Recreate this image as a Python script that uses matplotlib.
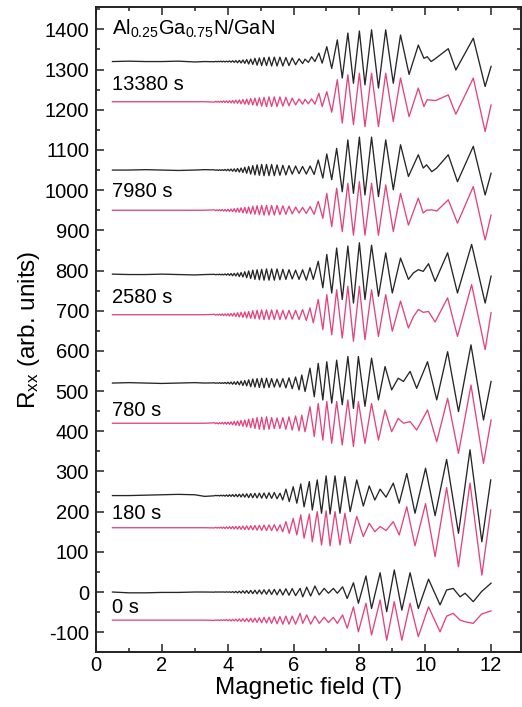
import matplotlib
matplotlib.use("Agg")
import matplotlib.pyplot as plt
from matplotlib.ticker import MultipleLocator

plt.rcParams['font.family'] = ['Liberation Sans', 'DejaVu Sans']
plt.rcParams['mathtext.default'] = 'regular'
plt.rcParams['axes.unicode_minus'] = False

# ---------------- data ----------------
labels = ["13380 s", "7980 s", "2580 s", "780 s", "180 s", "0 s"]
base_black = [1320, 1050, 790, 520, 240, 0]
base_pink = [1220, 950, 690, 420, 160, -70]
label_y = [1248, 983, 720, 438, 181, -53]

# flat low-field part (T)
flat_field = [0.5, 1.0, 1.5, 2.0, 2.5, 3.0, 3.3]
flat_pink = [0, 0, 0, 0, 0, 0, 0]

# estimated positions of the dense low-field extrema (T)
dense_field = [3.600, 3.637, 3.675, 3.714, 3.753, 3.793, 3.834, 3.876, 3.919, 3.963,
               4.008, 4.054, 4.101, 4.149, 4.198, 4.248, 4.300, 4.353, 4.407, 4.462,
               4.519, 4.577, 4.637, 4.699, 4.762, 4.827, 4.893, 4.962, 5.032, 5.104,
               5.179, 5.255, 5.334, 5.416, 5.499, 5.586, 5.675, 5.767, 5.862, 5.960,
               6.062, 6.167, 6.275, 6.388, 6.504, 6.625]

# ---- 13380 s ----
flat_blk_13380 = [0, 1, 0, 0, 1, -1, 0]
dense_blk_13380 = [-0.5, 0.5, -0.5, 0.5, -0.5, 1, -1, 1, -1, 1,
                   -1, 1.5, -1.5, 2, -2, 2.5, -3, 3, -3.5, 4,
                   -4.5, 5, -6, 6, -7, 8, -9, 9, -10, 10,
                   -10, 11, -11, 11, -11, 11, -11, 10, -10, 9,
                   -8, 7, -5]
dense_pnk_13380 = [-1, 1, -1, 1, -1.5, 1.5, -1.5, 2, -2, 2,
                   -2.5, 2.5, -3, 3, -3.5, 4, -4, 4.5, -5, 5.5,
                   -6, 6.5, -7, 8, -8, 9, -10, 10, -11, 11,
                   -12, 12, -12, 12, -12, 12, -11, 11, -10, 9,
                   -8, 7, -6]
high_field_13380 = [6.35, 6.45, 6.55, 6.65, 6.77, 6.87, 7.01, 7.16, 7.33, 7.48,
                    7.65, 7.82, 8.00, 8.17, 8.37, 8.58, 8.80, 9.03, 9.25, 9.51,
                    9.79, 9.96, 10.06, 10.18, 10.32, 10.70, 10.93, 11.46, 11.82, 12.0]
high_blk_13380 = [6, -2, 12, 0, 21, -4, 37, -17, 54, -41,
                  71, -54, 76, -58, 79, -66, 79, -54, 66, -32,
                  41, 8, 12, 0, 8, 32, -21, 58, -62, -12]
high_pnk_13380 = [6, -5, 7, -6, 21, -12, 25, -26, 55, -53,
                  67, -57, 71, -62, 71, -62, 71, -49, 59, -37,
                  34, -12, 5, 4, 3, 17, -31, 59, -74, -8]

# ---- 7980 s ----
flat_blk_7980 = [0, 0, 1, 0, -1, 0, 1]
dense_blk_7980 = [0.5, -0.5, 0.5, -1, 1, -1, 1, -1, 1.5, -1.5,
                  2, -2, 2.5, -3, 3, -4, 4, -5, 5, -6,
                  7, -8, 9, -10, 11, -12, 13, -13, 14, -14,
                  14, -14, 14, -14, 13, -13, 12, -12, 11, -10,
                  10, -9, 9, -10, 10, -11]
dense_pnk_7980 = [1, -1, 1, -1, 1.5, -1.5, 2, -2, 2, -2.5,
                  2.5, -3, 3, -3.5, 4, -4.5, 5, -5, 6, -6.5,
                  7, -8, 8, -9, 10, -10, 11, -11, 12, -12,
                  12, -12, 12, -12, 12, -11, 11, -10, 10, -9,
                  8, -7, 7, -8, 9, -10]
high_field_7980 = [6.75, 6.89, 7.01, 7.16, 7.31, 7.48, 7.65, 7.82, 8.00, 8.17,
                   8.37, 8.58, 8.80, 9.03, 9.25, 9.49, 9.79, 9.94, 10.04, 10.20,
                   10.35, 10.70, 10.98, 11.46, 11.82, 12.0]
high_blk_7980 = [25, -20, 40, -24, 54, -54, 75, -58, 82, -62,
                 82, -66, 75, -49, 63, -16, 38, 5, 13, -4,
                 5, 38, -29, 59, -62, -8]
high_pnk_7980 = [22, -20, 42, -41, 55, -53, 67, -62, 71, -62,
                 67, -62, 63, -53, 42, -37, 30, -7, 0, 1,
                 -2, 26, -32, 59, -74, -12]

# ---- 2580 s ----
flat_blk_2580 = [1, 0, 0, 1, 0, -1, 0]
dense_blk_2580 = [0.5, -0.5, 0.5, -0.5, 1, -1, 1, -1, 1.5, -1.5,
                  2, -2, 2.5, -3, 3, -3.5, 4, -5, 5, -6,
                  7, -8, 9, -10, 11, -12, 12, -13, 13, -14,
                  14, -14, 14, -14, 14, -13, 13, -12, 12, -11,
                  11, -12, 12, -14]
dense_pnk_2580 = [1, -1, 1, -1, 1.5, -1.5, 2, -2, 2, -2.5,
                  2.5, -3, 3, -3.5, 4, -4.5, 5, -5.5, 6, -6.5,
                  7, -8, 8, -9, 10, -10, 11, -11, 12, -12,
                  12, -12, 12, -12, 12, -12, 11, -11, 11, -11,
                  11, -12, 13, -14]
high_field_2580 = [6.50, 6.60, 6.75, 6.89, 7.01, 7.16, 7.31, 7.48, 7.65, 7.82,
                   8.00, 8.17, 8.37, 8.58, 8.80, 9.00, 9.25, 9.49, 9.64, 9.79,
                   9.94, 10.10, 10.30, 10.68, 10.98, 11.41, 11.82, 12.0]
high_blk_2580 = [17, -12, 33, -33, 50, -46, 66, -62, 71, -71,
                 79, -62, 73, -54, 54, -46, 41, -12, 4, 12,
                 8, 27, -17, 54, -46, 75, -71, -4]
high_pnk_2580 = [17, -20, 38, -37, 50, -50, 62, -58, 71, -66,
                 71, -62, 62, -54, 50, -41, 34, -33, -5, 13,
                 6, 8, -18, 42, -54, 75, -87, 5]

# ---- 780 s ----
flat_blk_780 = [0, 1, 0, -1, 0, 1, 0]
dense_blk_780 = [0.5, -0.5, 0.5, -0.5, 1, -1, 1, -1, 1.5, -1.5,
                 2, -2, 2.5, -3, 3, -3.5, 4, -4.5, 5, -6,
                 6, -7, 8, -9, 10, -10, 11, -11, 12, -12,
                 12, -11, 11, -10, 10, -10, 11, -12, 13, -14,
                 15, -17]
dense_pnk_780 = [1, -1, 1, -1.5, 1.5, -1.5, 2, -2, 2.5, -2.5,
                 3, -3, 3.5, -4, 4.5, -5, 5.5, -6, 7, -7.5,
                 8, -9, 10, -11, 12, -13, 14, -15, 15, -16,
                 16, -15, 14, -13, 13, -13, 14, -15, 16, -17,
                 18, -19]
high_field_780 = [6.25, 6.35, 6.50, 6.63, 6.75, 6.89, 7.01, 7.16, 7.31, 7.48,
                  7.65, 7.82, 7.97, 8.17, 8.37, 8.58, 8.78, 8.98, 9.18, 9.34,
                  9.54, 9.74, 10.07, 10.35, 10.68, 11.01, 11.39, 11.77, 12.0]
high_blk_780 = [20, -21, 37, -34, 49, -42, 53, -50, 57, -54,
                66, -63, 66, -58, 62, -42, 41, -17, 12, 4,
                29, -13, 53, -42, 78, -71, 95, -92, 4]
high_pnk_780 = [20, -21, 41, -33, 49, -42, 54, -50, 54, -54,
                58, -58, 54, -50, 49, -42, 33, -21, 12, 0,
                4, -17, 33, -46, 62, -75, 95, -100, 8]

# ---- 180 s ----
flat_blk_180 = [0, 0, 1, 2, 3, 2, -2]
dense_blk_180 = [-0.5, 0.5, -0.5, 0.5, -1, 1, -1, 1, -1.5, 1.5,
                 -2, 2, -2, 2.5, -2.5, 3, -3, 3.5, -3.5, 4,
                 -4, 4.5, -5, 5, -5.5, 5.5, -6, 6, -6.5, 6.5,
                 -7, 7, -7, 7.5, -8]
dense_pnk_180 = [-0.5, 1, -1, 1, -1, 1.5, -1.5, 1.5, -2, 2,
                 -2, 2.5, -2.5, 3, -3, 3, -3.5, 3.5, -4, 4,
                 -4.5, 4.5, -5, 5, -5.5, 5.5, -6, 6, -6.5, 6.5,
                 -7, 7, -7, 7.5, -8]
high_field_180 = [5.59, 5.67, 5.77, 5.87, 5.99, 6.10, 6.22, 6.32, 6.48, 6.57,
                  6.72, 6.85, 6.99, 7.11, 7.26, 7.41, 7.56, 7.72, 7.92, 8.12,
                  8.30, 8.47, 8.63, 8.81, 9.03, 9.21, 9.44, 9.69, 10.01, 10.30,
                  10.65, 11.01, 11.36, 11.72, 11.99]
high_blk_180 = [6, -11, 16, -15, 22, -19, 29, -28, 35, -36,
                39, -44, 49, -46, 49, -44, 47, -40, 39, -26,
                24, -11, 16, -4, 31, -19, 55, -44, 68, -50,
                90, -94, 114, -115, 39]
high_pnk_180 = [7, -10, 15, -14, 23, -18, 32, -26, 34, -35,
                40, -43, 42, -45, 40, -43, 36, -39, 28, -22,
                11, -10, 3, -7, 15, -18, 52, -45, 60, -72,
                100, -97, 111, -118, 44]

# ---- 0 s ----
flat_blk_0 = [0, -2, -2, -1, -1, 0, 0]
dense_blk_0 = [-0.3, 0.3, -0.3, 0.3, -0.3, 0.3, -0.3, 0.3, -0.5, 0.5,
               -0.5, 0.5, -1, 1, -1.5, 1.5, -2, 2, -2.5, 3,
               -3, 3.5, -3.5, 4, -4, 4.5, -4.5, 5, -5, 5.5,
               -5.5, 6, -6, 6.5, -7, 7, -7.5, 8, -8, 8.5,
               -9]
dense_pnk_0 = [-0.5, 0.5, -0.5, 0.5, -1, 1, -1, 1, -1, 1.5,
               -1.5, 1.5, -2, 2, -2, 2.5, -2.5, 3, -3, 3.5,
               -3.5, 4, -4, 4.5, -5, 5, -5.5, 6, -6.5, 7,
               -7, 7.5, -8, 8.5, -9, 9, -10, 10, -10, 10,
               -10]
high_field_0 = [6.20, 6.28, 6.40, 6.52, 6.65, 6.78, 6.93, 7.06, 7.21, 7.33,
                7.49, 7.63, 7.82, 7.97, 8.20, 8.37, 8.63, 8.83, 9.06, 9.29,
                9.54, 9.79, 10.10, 10.45, 10.65, 10.85, 11.06, 11.21, 11.46, 11.71,
                12.0]
high_blk_0 = [9, -12, 12, -10, 15, -7, 9, -3, 9, -3,
              13, -16, 23, -28, 40, -41, 48, -49, 55, -45,
              48, -41, 32, -32, 5, 9, -12, -3, -24, 1,
              22]
high_pnk_0 = [17, -8, 13, -10, 10, -8, 7, -6, 7, -8,
              13, -20, 33, -29, 42, -37, 50, -50, 46, -50,
              42, -41, 33, -29, 10, 17, 0, -4, -8, 15,
              23]

pairs = [
    (flat_blk_13380, dense_blk_13380, dense_pnk_13380, high_field_13380, high_blk_13380, high_pnk_13380),
    (flat_blk_7980, dense_blk_7980, dense_pnk_7980, high_field_7980, high_blk_7980, high_pnk_7980),
    (flat_blk_2580, dense_blk_2580, dense_pnk_2580, high_field_2580, high_blk_2580, high_pnk_2580),
    (flat_blk_780, dense_blk_780, dense_pnk_780, high_field_780, high_blk_780, high_pnk_780),
    (flat_blk_180, dense_blk_180, dense_pnk_180, high_field_180, high_blk_180, high_pnk_180),
    (flat_blk_0, dense_blk_0, dense_pnk_0, high_field_0, high_blk_0, high_pnk_0),
]

BLACK = '#262626'
PINK = '#e2447f'

fig = plt.figure(figsize=(5.22, 7.07), dpi=100)
ax = fig.add_axes([96 / 522, 1 - 652.3 / 707, (520.7 - 96) / 522, (652.3 - 7.3) / 707])

for i, (fb, db, dp, hf, hb, hp) in enumerate(pairs):
    n_b = len(db)
    n_p = len(dp)
    xb = flat_field + dense_field[:n_b] + hf
    yb = [base_black[i] + v for v in fb + db + hb]
    xp = flat_field + dense_field[:n_p] + hf
    yp = [base_pink[i] + v for v in flat_pink + dp + hp]
    ax.plot(xb, yb, color=BLACK, lw=0.95, zorder=3, solid_joinstyle='round')
    ax.plot(xp, yp, color=PINK, lw=0.95, zorder=2, solid_joinstyle='round')
    ax.text(0.5, label_y[i], labels[i], fontsize=14.5, ha='left', va='baseline', color='black')

ax.text(0.5, 1387, r'Al$_{0.25}$Ga$_{0.75}$N/GaN', fontsize=14.5, ha='left', va='baseline')

ax.set_xlim(0, 12.9)
ax.set_ylim(-150, 1455)
ax.xaxis.set_major_locator(MultipleLocator(2))
ax.xaxis.set_minor_locator(MultipleLocator(1))
ax.yaxis.set_major_locator(MultipleLocator(100))
ax.yaxis.set_minor_locator(MultipleLocator(50))
ax.tick_params(which='both', direction='in', top=True, right=True, width=1.1, colors='#222222',
               labelcolor='black')
ax.tick_params(which='major', length=5.5)
ax.tick_params(which='minor', length=3)
ax.tick_params(axis='x', which='major', labelsize=14.5, pad=3)
ax.tick_params(axis='y', which='major', labelsize=14.5, pad=5)
for s in ax.spines.values():
    s.set_linewidth(1.4)
    s.set_color('#222222')

ax.set_xlabel('Magnetic field (T)', fontsize=17.5, labelpad=1)
ax.set_ylabel(r'R$_{xx}$ (arb. units)', fontsize=17.5, labelpad=2)

fig.savefig('out.png', dpi=100)
